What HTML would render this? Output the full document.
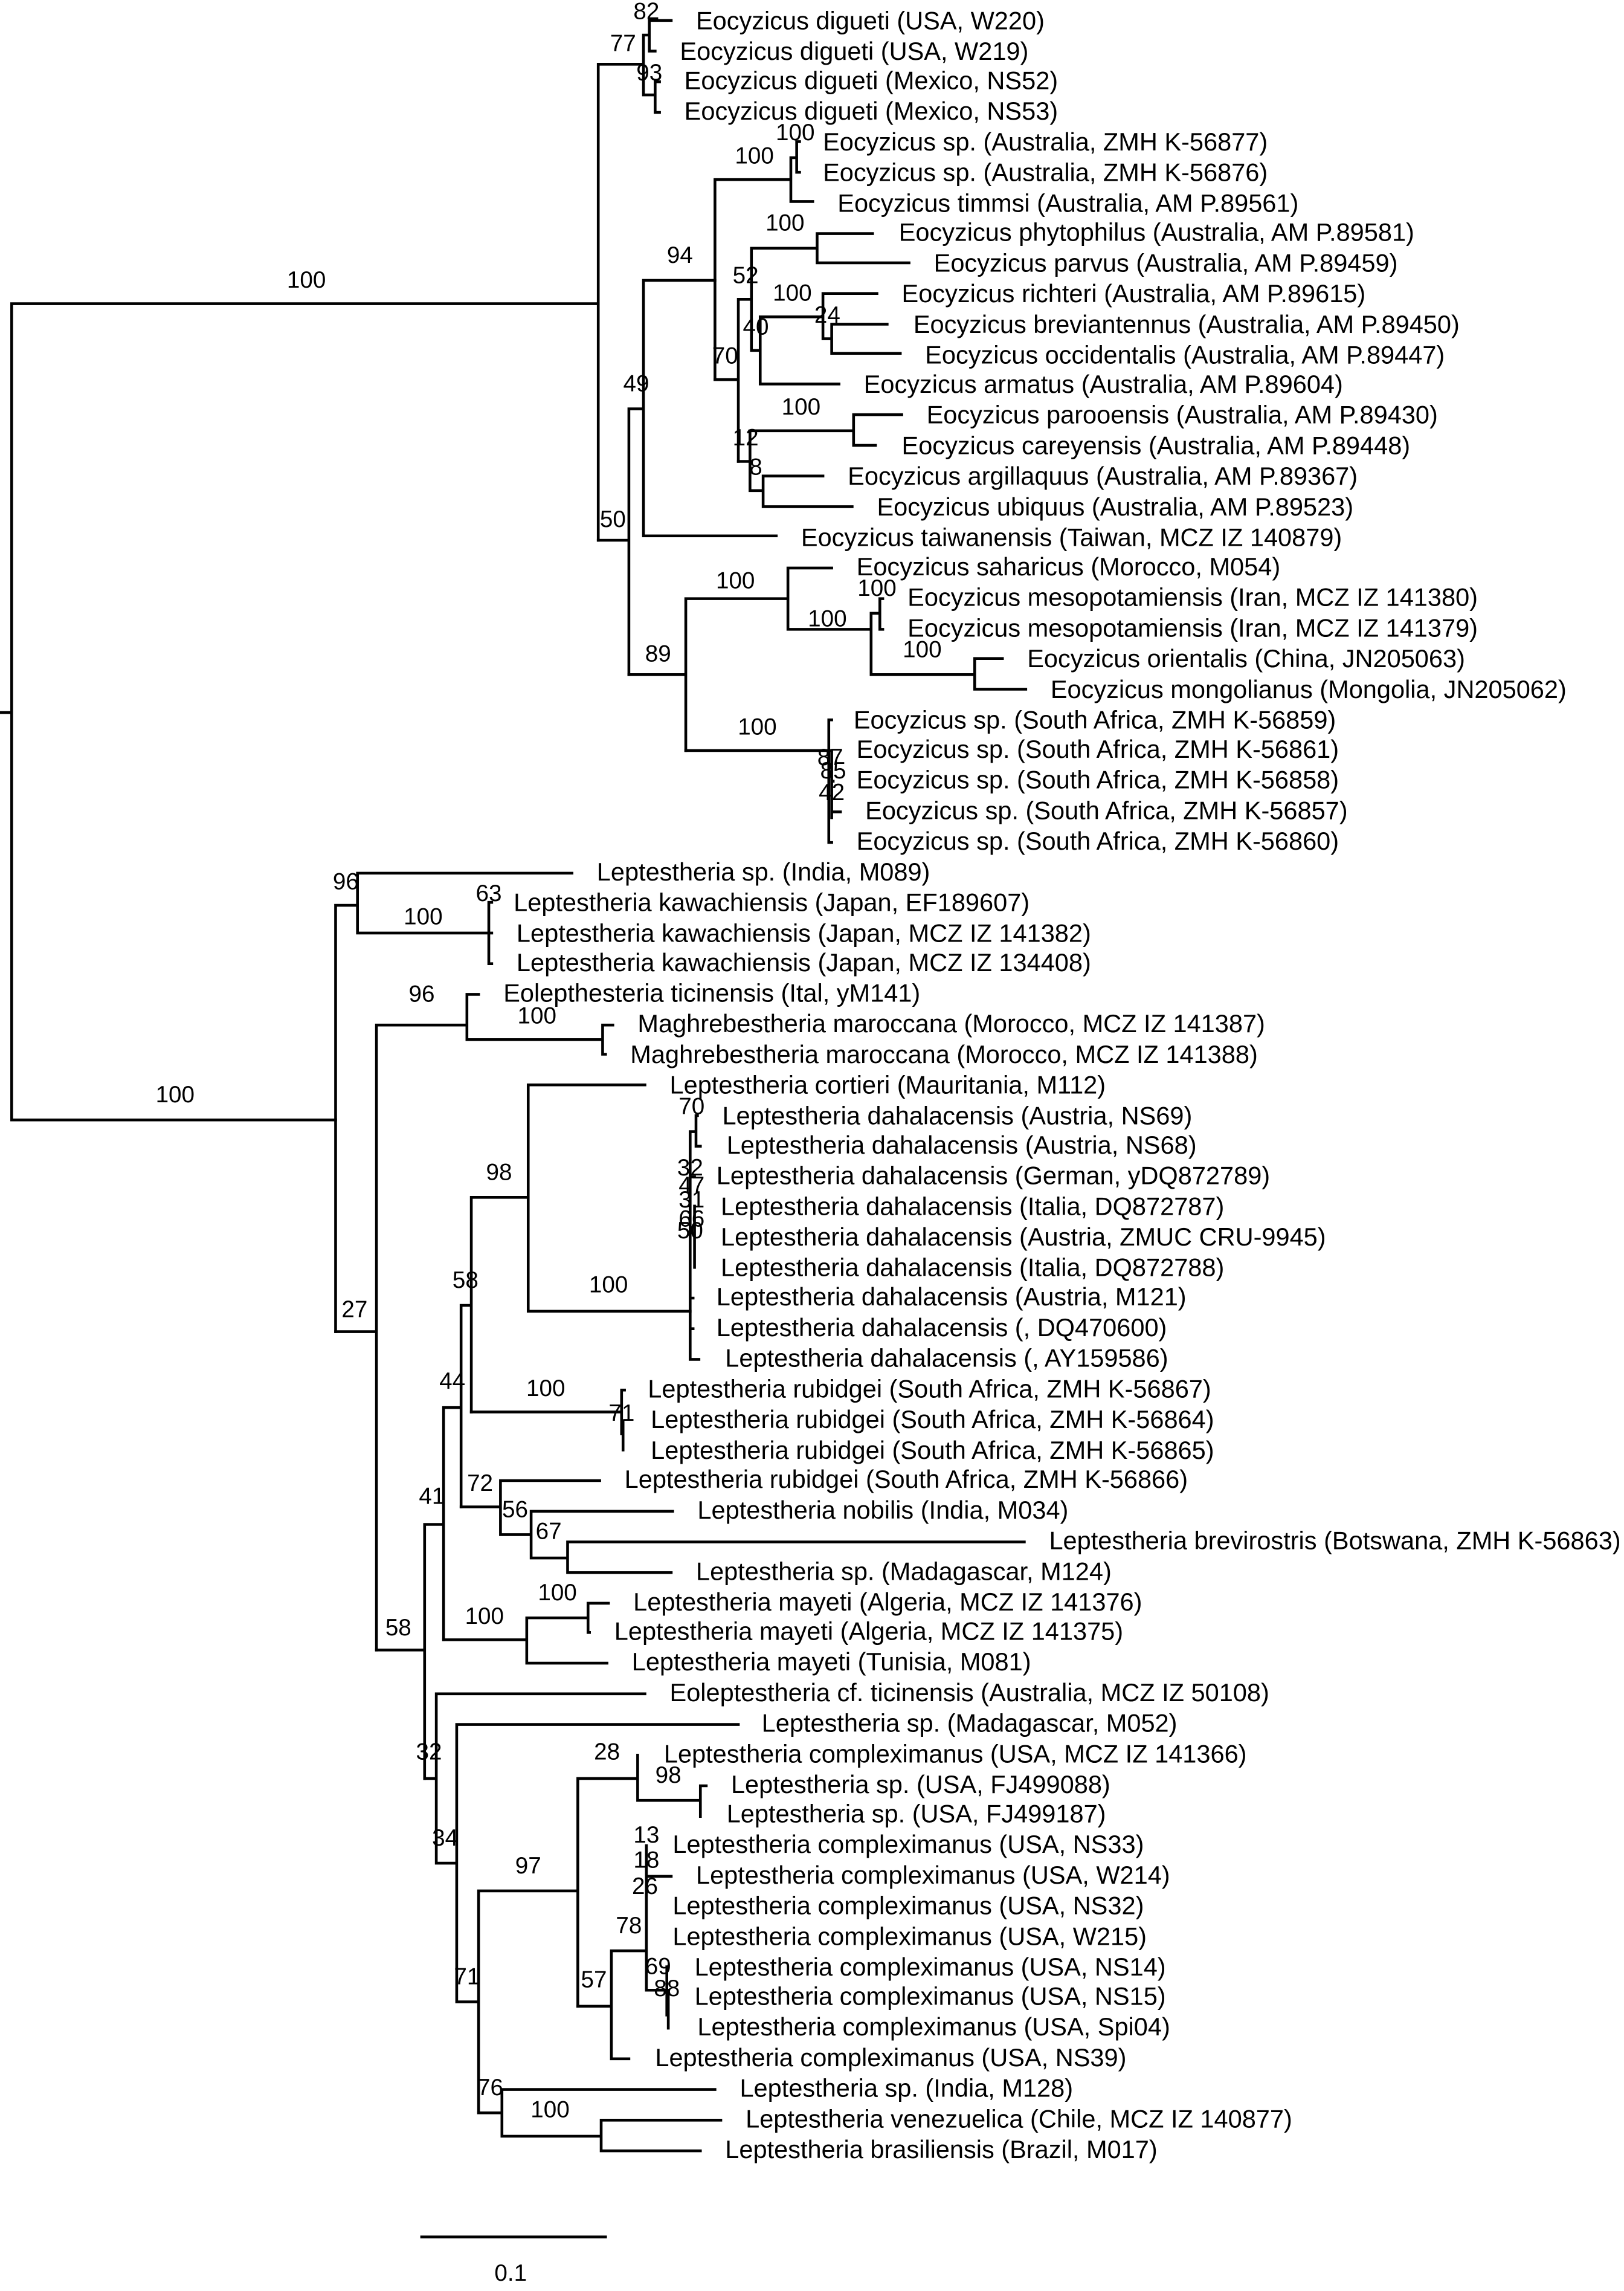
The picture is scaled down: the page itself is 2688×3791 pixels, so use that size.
<!DOCTYPE html>
<html><head><meta charset="utf-8"><style>
html,body{margin:0;padding:0;background:#fff;}
svg{display:block;}
text{font-family:"Liberation Sans",Arial,sans-serif;font-size:17.2px;fill:#000;}
.b{font-size:16px;text-anchor:middle;}
</style></head><body>
<svg width="2688" height="3791" viewBox="0 0 1113 1569" preserveAspectRatio="none" xmlns="http://www.w3.org/2000/svg">
<g fill="none" stroke="#000" stroke-width="1.9" stroke-linecap="square">
<path d="M0 488H8M8 208V767M8 208H410M8 767H230"/>
<path d="M410 44V370M410 44H441M441 24V65M441 24H445M445 14V35M445 14H460M445 35H449M441 65H449M449 56V77M449 56H452M449 77H452"/>
<path d="M410 370H431M431 280V462M431 280H441M441 192V367M441 192H490M441 367H532"/>
<path d="M490 123V260M490 123H542M542 108V138M542 108H546M546 97V118M546 97H548M546 118H548M542 138H557"/>
<path d="M490 260H506M506 205V316M506 205H515M515 170V240M515 170H560M560 160V180M560 160H598M560 180H623M515 240H521M521 217V263M521 217H564M564 201V232M564 201H601M564 232H570M570 222V242M570 222H608M570 242H617M521 263H575"/>
<path d="M506 316H514M514 295V336M514 295H585M585 284V305M585 284H618M585 305H600M514 336H523M523 326V347M523 326H564M523 347H584"/>
<path d="M431 462H470M470 410V514M470 410H540M540 389V431M540 389H570M540 431H597M597 420V462M597 420H603M603 410V431M603 410H605M603 431H605M597 462H668M668 451V472M668 451H687M668 472H703"/>
<path d="M470 514H568M568 493V577M568 493H570M568 514H570M570 514V560M570 535H571M570 556H576M568 577H570"/>
<path d="M230 620V912M230 620H245M245 598V639M245 598H392M245 639H335M335 618V660M335 618H337M335 639H337M335 660H337"/>
<path d="M230 912H258M258 702V1130M258 702H320M320 681V712M320 681H328M320 712H413M413 702V722M413 702H420M413 722H415"/>
<path d="M258 1130H291M291 1044V1218M291 1044H304M304 964V1123M304 964H316M316 894V1032M316 894H323M323 820V967M323 820H362M362 743V898M362 743H442M362 898H473"/>
<path d="M473 775V931M473 775H477M477 764V785M477 764H478M477 785H480M473 931H479M476 826V868M473 806H476M473 889H475M473 910H475"/>
<path d="M323 967H426M426 952V982M427 973V993M426 952H428"/>
<path d="M316 1032H343M343 1014V1051M343 1014H411M343 1051H364M364 1035V1067M364 1035H461M364 1067H389M389 1056V1077M389 1056H702M389 1077H460"/>
<path d="M304 1123H361M361 1108V1139M361 1108H403M403 1098V1118M403 1098H417M403 1118H404M361 1139H416"/>
<path d="M291 1218H299M299 1160V1276M299 1160H442M299 1276H313M313 1181V1371M313 1181H506M313 1371H328M328 1295V1447M328 1295H396M396 1218V1374M396 1218H437M437 1202V1233M437 1233H480M480 1223V1244M480 1223H484"/>
<path d="M396 1374H419M419 1336V1410M419 1410H431M419 1336H443M443 1264V1363M443 1285H460M443 1363H457M457 1347V1380M458 1363V1389"/>
<path d="M328 1447H344M344 1431V1463M344 1431H490M344 1463H412M412 1452V1473M412 1452H494M412 1473H480"/>
<path d="M289 1532H415"/>
</g>
<g>
<text x="477" y="20">Eocyzicus digueti (USA, W220)</text>
<text x="466" y="41">Eocyzicus digueti (USA, W219)</text>
<text x="469" y="61">Eocyzicus digueti (Mexico, NS52)</text>
<text x="469" y="82">Eocyzicus digueti (Mexico, NS53)</text>
<text x="564" y="103">Eocyzicus sp. (Australia, ZMH K-56877)</text>
<text x="564" y="124">Eocyzicus sp. (Australia, ZMH K-56876)</text>
<text x="574" y="145">Eocyzicus timmsi (Australia, AM P.89561)</text>
<text x="616" y="165">Eocyzicus phytophilus (Australia, AM P.89581)</text>
<text x="640" y="186">Eocyzicus parvus (Australia, AM P.89459)</text>
<text x="618" y="207">Eocyzicus richteri (Australia, AM P.89615)</text>
<text x="626" y="228">Eocyzicus breviantennus (Australia, AM P.89450)</text>
<text x="634" y="249">Eocyzicus occidentalis (Australia, AM P.89447)</text>
<text x="592" y="269">Eocyzicus armatus (Australia, AM P.89604)</text>
<text x="635" y="290">Eocyzicus parooensis (Australia, AM P.89430)</text>
<text x="618" y="311">Eocyzicus careyensis (Australia, AM P.89448)</text>
<text x="581" y="332">Eocyzicus argillaquus (Australia, AM P.89367)</text>
<text x="601" y="353">Eocyzicus ubiquus (Australia, AM P.89523)</text>
<text x="549" y="374">Eocyzicus taiwanensis (Taiwan, MCZ IZ 140879)</text>
<text x="587" y="394">Eocyzicus saharicus (Morocco, M054)</text>
<text x="622" y="415">Eocyzicus mesopotamiensis (Iran, MCZ IZ 141380)</text>
<text x="622" y="436">Eocyzicus mesopotamiensis (Iran, MCZ IZ 141379)</text>
<text x="704" y="457">Eocyzicus orientalis (China, JN205063)</text>
<text x="720" y="478">Eocyzicus mongolianus (Mongolia, JN205062)</text>
<text x="585" y="499">Eocyzicus sp. (South Africa, ZMH K-56859)</text>
<text x="587" y="519">Eocyzicus sp. (South Africa, ZMH K-56861)</text>
<text x="587" y="540">Eocyzicus sp. (South Africa, ZMH K-56858)</text>
<text x="593" y="561">Eocyzicus sp. (South Africa, ZMH K-56857)</text>
<text x="587" y="582">Eocyzicus sp. (South Africa, ZMH K-56860)</text>
<text x="409" y="603">Leptestheria sp. (India, M089)</text>
<text x="352" y="624">Leptestheria kawachiensis (Japan, EF189607)</text>
<text x="354" y="645">Leptestheria kawachiensis (Japan, MCZ IZ 141382)</text>
<text x="354" y="665">Leptestheria kawachiensis (Japan, MCZ IZ 134408)</text>
<text x="345" y="686">Eolepthesteria ticinensis (Ital, yM141)</text>
<text x="437" y="707">Maghrebestheria maroccana (Morocco, MCZ IZ 141387)</text>
<text x="432" y="728">Maghrebestheria maroccana (Morocco, MCZ IZ 141388)</text>
<text x="459" y="749">Leptestheria cortieri (Mauritania, M112)</text>
<text x="495" y="770">Leptestheria dahalacensis (Austria, NS69)</text>
<text x="498" y="790">Leptestheria dahalacensis (Austria, NS68)</text>
<text x="491" y="811">Leptestheria dahalacensis (German, yDQ872789)</text>
<text x="494" y="832">Leptestheria dahalacensis (Italia, DQ872787)</text>
<text x="494" y="853">Leptestheria dahalacensis (Austria, ZMUC CRU-9945)</text>
<text x="494" y="874">Leptestheria dahalacensis (Italia, DQ872788)</text>
<text x="491" y="894">Leptestheria dahalacensis (Austria, M121)</text>
<text x="491" y="915">Leptestheria dahalacensis (, DQ470600)</text>
<text x="497" y="936">Leptestheria dahalacensis (, AY159586)</text>
<text x="444" y="957">Leptestheria rubidgei (South Africa, ZMH K-56867)</text>
<text x="446" y="978">Leptestheria rubidgei (South Africa, ZMH K-56864)</text>
<text x="446" y="999">Leptestheria rubidgei (South Africa, ZMH K-56865)</text>
<text x="428" y="1019">Leptestheria rubidgei (South Africa, ZMH K-56866)</text>
<text x="478" y="1040">Leptestheria nobilis (India, M034)</text>
<text x="719" y="1061">Leptestheria brevirostris (Botswana, ZMH K-56863)</text>
<text x="477" y="1082">Leptestheria sp. (Madagascar, M124)</text>
<text x="434" y="1103">Leptestheria mayeti (Algeria, MCZ IZ 141376)</text>
<text x="421" y="1123">Leptestheria mayeti (Algeria, MCZ IZ 141375)</text>
<text x="433" y="1144">Leptestheria mayeti (Tunisia, M081)</text>
<text x="459" y="1165">Eoleptestheria cf. ticinensis (Australia, MCZ IZ 50108)</text>
<text x="522" y="1186">Leptestheria sp. (Madagascar, M052)</text>
<text x="455" y="1207">Leptestheria compleximanus (USA, MCZ IZ 141366)</text>
<text x="501" y="1228">Leptestheria sp. (USA, FJ499088)</text>
<text x="498" y="1248">Leptestheria sp. (USA, FJ499187)</text>
<text x="461" y="1269">Leptestheria compleximanus (USA, NS33)</text>
<text x="477" y="1290">Leptestheria compleximanus (USA, W214)</text>
<text x="461" y="1311">Leptestheria compleximanus (USA, NS32)</text>
<text x="461" y="1332">Leptestheria compleximanus (USA, W215)</text>
<text x="476" y="1353">Leptestheria compleximanus (USA, NS14)</text>
<text x="476" y="1373">Leptestheria compleximanus (USA, NS15)</text>
<text x="478" y="1394">Leptestheria compleximanus (USA, Spi04)</text>
<text x="449" y="1415">Leptestheria compleximanus (USA, NS39)</text>
<text x="507" y="1436">Leptestheria sp. (India, M128)</text>
<text x="511" y="1457">Leptestheria venezuelica (Chile, MCZ IZ 140877)</text>
<text x="497" y="1478">Leptestheria brasiliensis (Brazil, M017)</text>
<text x="350" y="1562" class="b">0.1</text>
</g>
<g>
<text class="b" x="443" y="13">82</text>
<text class="b" x="427" y="35">77</text>
<text class="b" x="445" y="55">93</text>
<text class="b" x="545" y="96">100</text>
<text class="b" x="517" y="112">100</text>
<text class="b" x="466" y="180">94</text>
<text class="b" x="538" y="158">100</text>
<text class="b" x="511" y="194">52</text>
<text class="b" x="543" y="206">100</text>
<text class="b" x="567" y="221">24</text>
<text class="b" x="518" y="229">40</text>
<text class="b" x="497" y="249">70</text>
<text class="b" x="436" y="268">49</text>
<text class="b" x="549" y="284">100</text>
<text class="b" x="511" y="305">12</text>
<text class="b" x="518" y="325">8</text>
<text class="b" x="420" y="361">50</text>
<text class="b" x="504" y="403">100</text>
<text class="b" x="601" y="408">100</text>
<text class="b" x="567" y="429">100</text>
<text class="b" x="632" y="450">100</text>
<text class="b" x="451" y="453">89</text>
<text class="b" x="519" y="503">100</text>
<text class="b" x="569" y="524">87</text>
<text class="b" x="571" y="533">85</text>
<text class="b" x="570" y="548">42</text>
<text class="b" x="210" y="197">100</text>
<text class="b" x="120" y="755">100</text>
<text class="b" x="237" y="609">96</text>
<text class="b" x="335" y="617">63</text>
<text class="b" x="290" y="633">100</text>
<text class="b" x="289" y="686">96</text>
<text class="b" x="368" y="701">100</text>
<text class="b" x="474" y="763">70</text>
<text class="b" x="342" y="808">98</text>
<text class="b" x="473" y="805">32</text>
<text class="b" x="474" y="817">47</text>
<text class="b" x="474" y="827">31</text>
<text class="b" x="474" y="840">66</text>
<text class="b" x="473" y="848">50</text>
<text class="b" x="417" y="885">100</text>
<text class="b" x="319" y="882">58</text>
<text class="b" x="243" y="902">27</text>
<text class="b" x="310" y="951">44</text>
<text class="b" x="374" y="956">100</text>
<text class="b" x="426" y="973">71</text>
<text class="b" x="329" y="1021">72</text>
<text class="b" x="353" y="1039">56</text>
<text class="b" x="376" y="1054">67</text>
<text class="b" x="296" y="1030">41</text>
<text class="b" x="382" y="1096">100</text>
<text class="b" x="332" y="1112">100</text>
<text class="b" x="273" y="1120">58</text>
<text class="b" x="416" y="1205">28</text>
<text class="b" x="458" y="1221">98</text>
<text class="b" x="294" y="1205">32</text>
<text class="b" x="443" y="1262">13</text>
<text class="b" x="443" y="1279">18</text>
<text class="b" x="442" y="1297">26</text>
<text class="b" x="305" y="1264">34</text>
<text class="b" x="362" y="1283">97</text>
<text class="b" x="431" y="1324">78</text>
<text class="b" x="451" y="1352">69</text>
<text class="b" x="457" y="1367">88</text>
<text class="b" x="407" y="1361">57</text>
<text class="b" x="320" y="1359">71</text>
<text class="b" x="336" y="1435">76</text>
<text class="b" x="377" y="1450">100</text>
</g>
</svg>
</body></html>
